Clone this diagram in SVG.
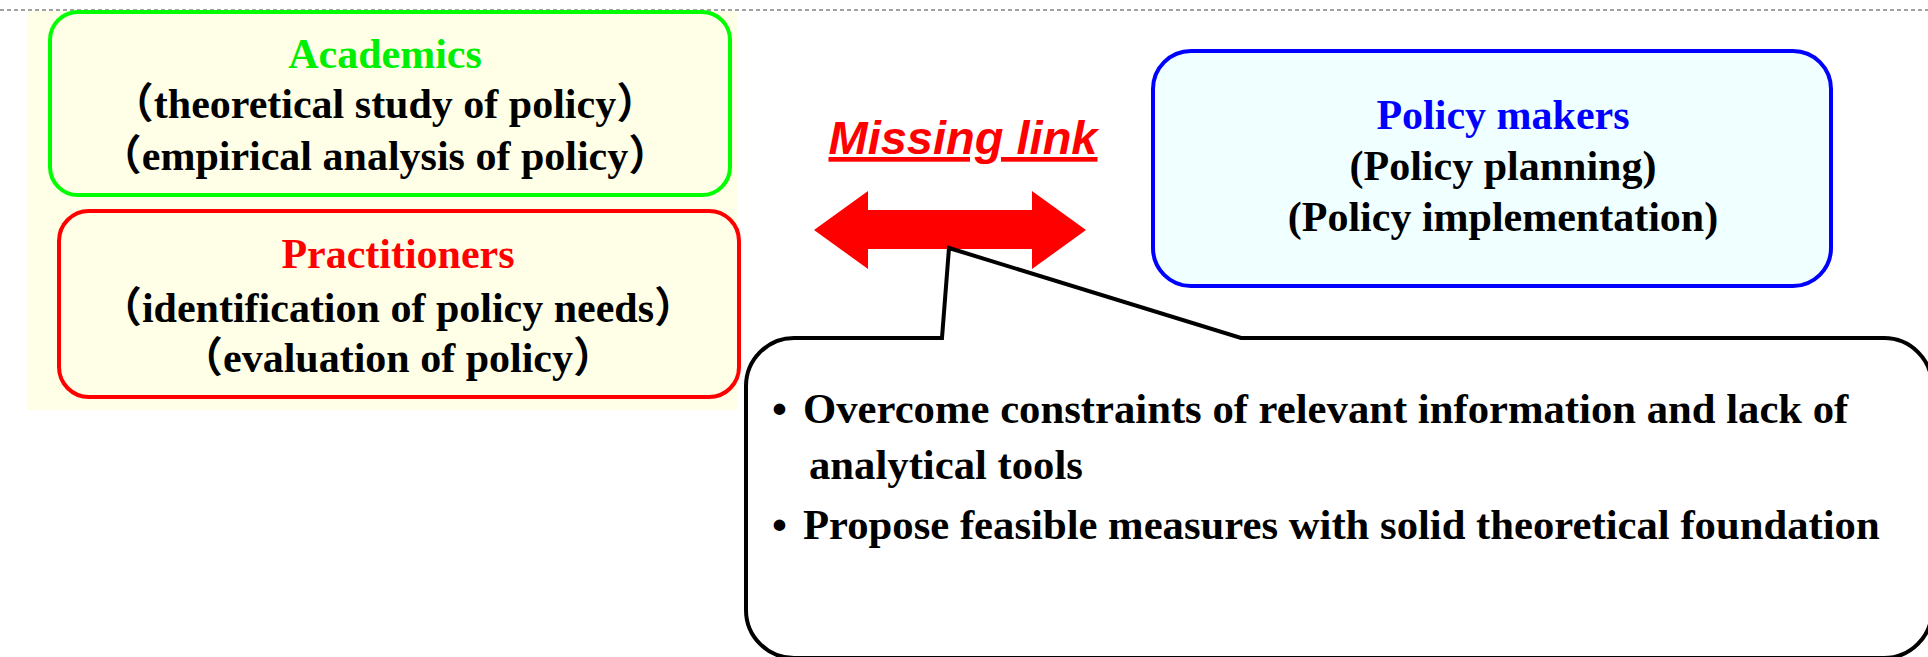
<svg xmlns="http://www.w3.org/2000/svg" width="1928" height="657" viewBox="0 0 1928 657">
<style>
.t{font-family:"Liberation Serif","Noto Sans CJK JP",serif;font-weight:bold;font-size:42px;text-anchor:middle;fill:#000}
.l{font-family:"Liberation Serif","Noto Sans CJK JP",serif;font-weight:bold;font-size:42.7px;fill:#000}
.box{stroke-width:4}
</style>
<rect width="1928" height="657" fill="#ffffff"/>
<line x1="0" y1="10" x2="1928" y2="10" stroke="#444" stroke-width="1.2" stroke-dasharray="4 3"/>
<rect x="27" y="11" width="710" height="399" fill="#ffffe8"/>
<g id="academics">
<rect class="box" x="50" y="12" width="680" height="183" rx="28" fill="#ffffe8" stroke="#00ff00"/>
<text class="t" x="385" y="68" style="fill:#00ee00">Academics</text>
<text class="t" x="385" y="118">（theoretical study of policy）</text>
<text class="t" x="385" y="170">（empirical analysis of policy）</text>
</g>
<g id="practitioners">
<rect class="box" x="59" y="211" width="680" height="186" rx="30" fill="#ffffe8" stroke="#ff0000"/>
<text class="t" x="398" y="268" style="fill:#ff0000">Practitioners</text>
<text class="t" x="398" y="322">（identification of policy needs）</text>
<text class="t" x="398" y="372">（evaluation of policy）</text>
</g>
<g id="policy-makers">
<rect class="box" x="1153" y="51" width="678" height="235" rx="38" fill="#f0ffff" stroke="#0000ff"/>
<text class="t" x="1503" y="129" style="fill:#0000ff">Policy makers</text>
<text class="t" x="1503" y="180">(Policy planning)</text>
<text class="t" x="1503" y="231">(Policy implementation)</text>
</g>
<g id="connectors">
<text x="963" y="154" font-family="Liberation Sans, Arial, sans-serif" font-weight="bold" font-style="italic" font-size="47" fill="#ff0000" text-anchor="middle" text-decoration="underline">Missing link</text>
<polygon points="814,230 868,191 868,210 1032,210 1032,191 1086,230 1032,269 1032,249 868,249 868,269" fill="#ff0000"/>
</g>
<g id="callout">
<path d="M794,338 L942,338 L949,248 L1241,338 L1884,338 A48,48 0 0 1 1932,386 L1932,610 A48,48 0 0 1 1884,658 L794,658 A48,48 0 0 1 746,610 L746,386 A48,48 0 0 1 794,338 Z" fill="#ffffff" stroke="#000" stroke-width="4" stroke-linejoin="miter"/>
<text class="l" x="772" y="423">•</text>
<text class="l" x="803" y="423">Overcome constraints of relevant information and lack of</text>
<text class="l" x="809" y="479">analytical tools</text>
<text class="l" x="772" y="539">•</text>
<text class="l" x="803" y="539">Propose feasible measures with solid theoretical foundation</text>
</g>
</svg>
